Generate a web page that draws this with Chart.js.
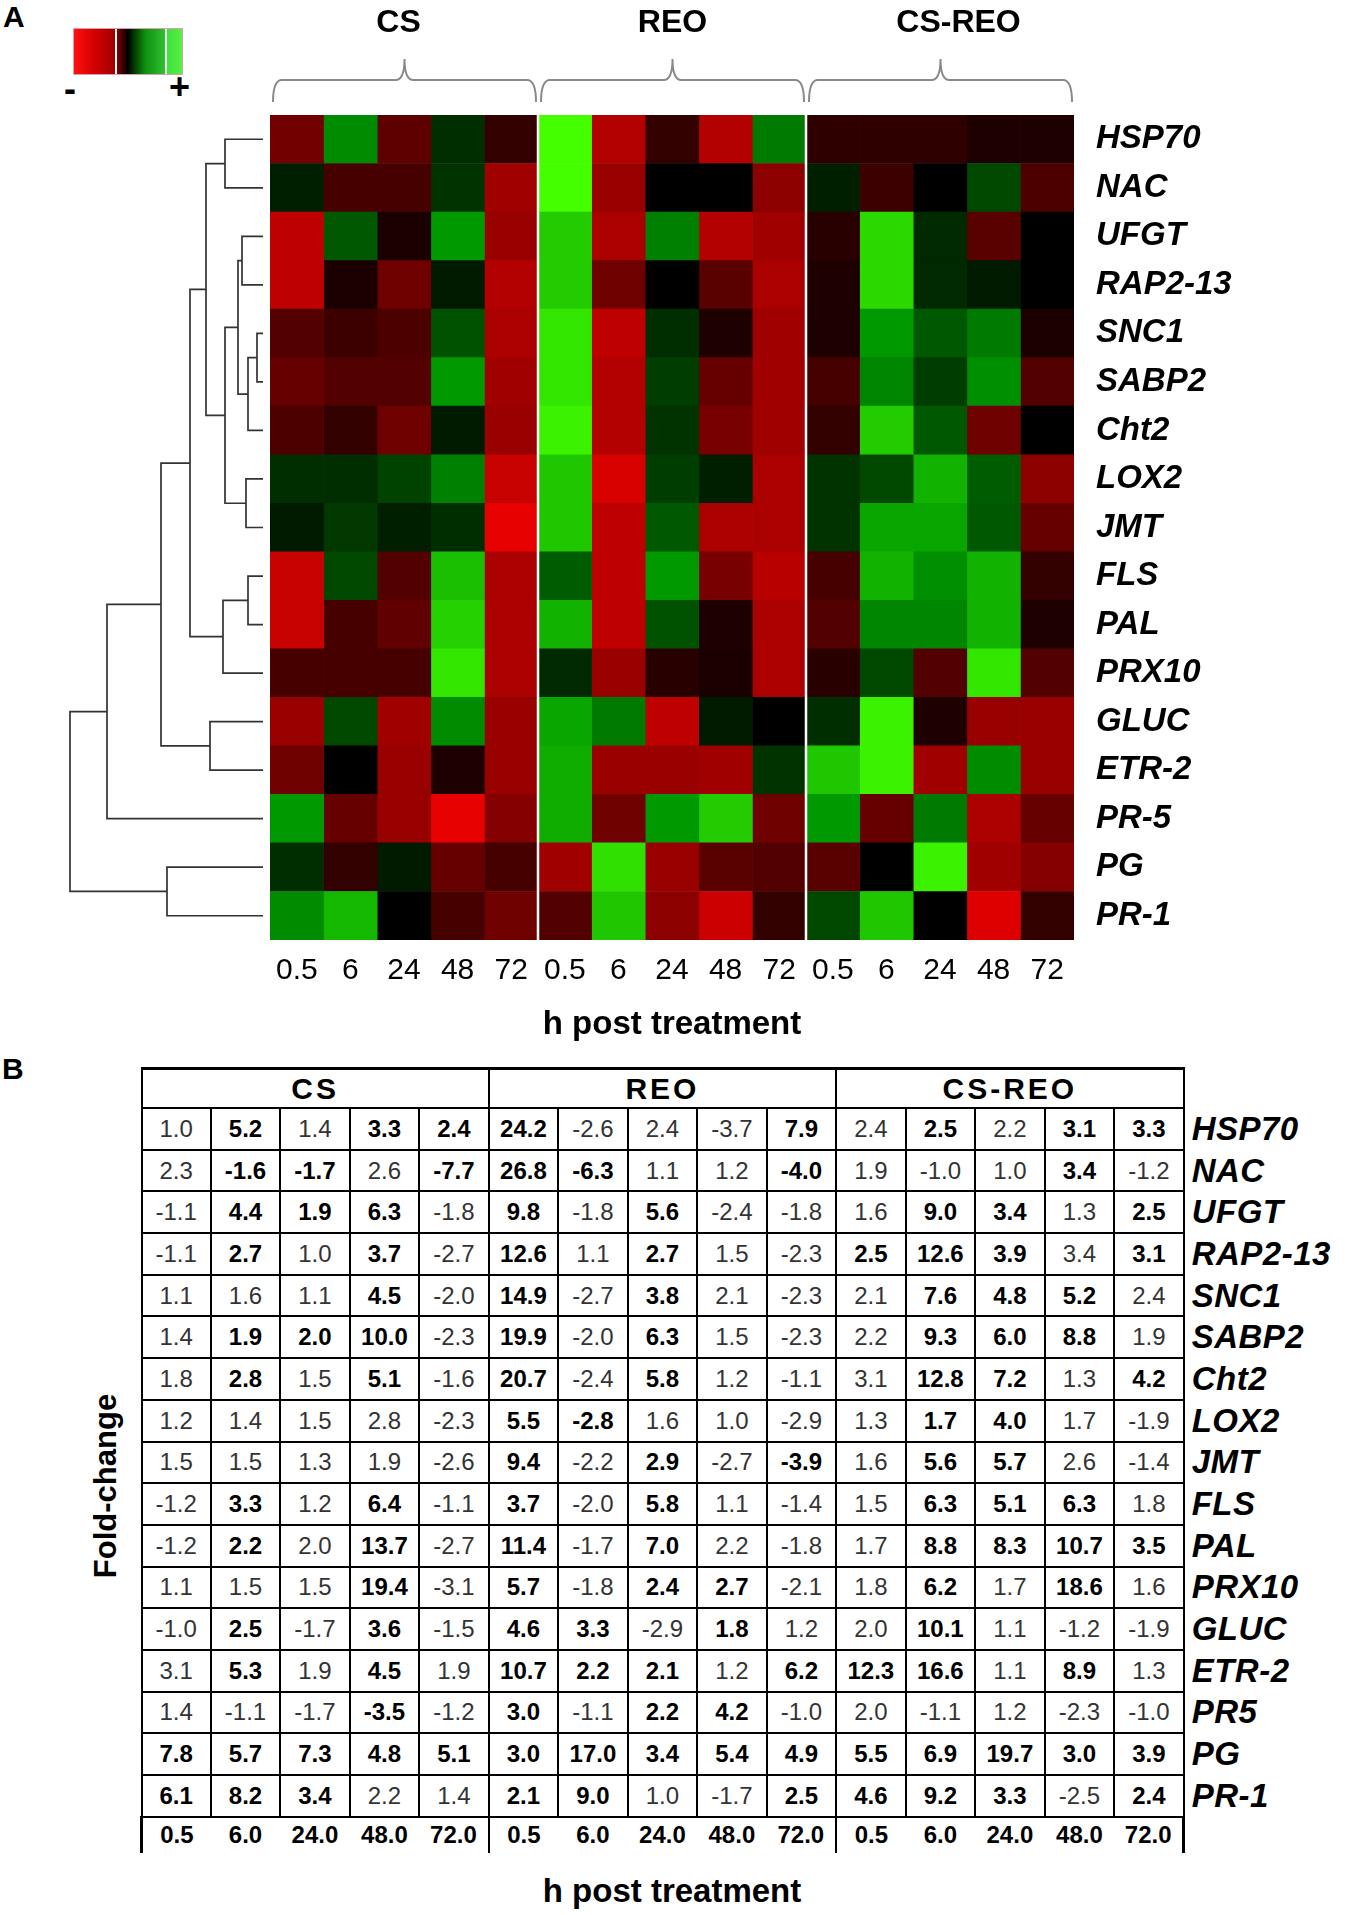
<!DOCTYPE html>
<html>
<head>
<meta charset="utf-8">
<script src="https://cdn.jsdelivr.net/npm/chart.js@4.4.0/dist/chart.umd.min.js"></script>
<style>
body { margin: 0; background: #fff; font-family: "Liberation Sans", Arial, sans-serif; }
#page { position: relative; width: 1345px; height: 1915px; overflow: hidden; }
.abs { position: absolute; }
.panel { font: bold 30px "Liberation Sans", Arial, sans-serif; }
#scalebar {
  left: 73px; top: 28px; width: 108px; height: 45px; border: 1px solid #d8a0b0;
  background: linear-gradient(to right, #ff1010 0%, #d00000 20%, #a00000 38%, #fff 38.3%, #fff 39.6%, #800000 40%, #300000 46%, #000 50%, #003300 55%, #109010 66%, #30c030 84%, #fff 84.3%, #fff 85.6%, #40e040 86%, #55f040 100%);
}
.sign { font: bold 36px "Liberation Sans", Arial, sans-serif; }
#tbl { border-collapse: collapse; table-layout: fixed; left: 140px; top: 1067px; }
#tbl td, #tbl th { padding: 0; text-align: center; border: 2px solid #000; }
#tbl th { height: 37px; font: bold 30px "Liberation Sans", Arial, sans-serif; letter-spacing: 3px; border-top-width: 3px; }
#tbl td.v { height: 39.7px; font-size: 24px; color: #333; }
#tbl td.v.b { font-weight: bold; color: #000; }
#tbl td.g { border: none; text-align: left; padding-left: 7px; font: italic bold 33px "Liberation Sans", Arial, sans-serif; letter-spacing: 0.5px; white-space: nowrap; }
#tbl td.t { border: none; height: 35px; font: bold 24px "Liberation Sans", Arial, sans-serif; }
#tbl td.first { border-left: 3px solid #000; }
#tbl td.edge { border-right: 2px solid #000; }
#tbl td.last { border-right: 3px solid #000; }
.title { font: bold 33px "Liberation Sans", Arial, sans-serif; }
</style>
</head>
<body>
<div id="page">
  <div class="abs panel" style="left:3px;top:0px;">A</div>
  <div class="abs" id="scalebar"></div>
  <div class="abs sign" style="left:64px;top:68px;">-</div>
  <div class="abs sign" style="left:169px;top:66px;">+</div>

  <div class="abs" style="left:0;top:115px;"><canvas id="dendro" width="263" height="825"></canvas></div>
  <div class="abs" style="left:270px;top:0;"><canvas id="heat" width="1075" height="1060"></canvas></div>

  <div class="abs panel" style="left:2px;top:1052px;">B</div>
  <div class="abs title" style="left:106px;top:1486px;transform:translate(-50%,-50%) rotate(-90deg);white-space:nowrap;font-size:31px;">Fold-change</div>
  <table id="tbl" class="abs"></table>
  <div class="abs title" style="left:672px;top:1891px;transform:translate(-50%,-50%);white-space:nowrap;">h post treatment</div>
</div>

<script>
const genes = ['HSP70', 'NAC', 'UFGT', 'RAP2-13', 'SNC1', 'SABP2', 'Cht2', 'LOX2', 'JMT', 'FLS', 'PAL', 'PRX10', 'GLUC', 'ETR-2', 'PR-5', 'PG', 'PR-1'];
const tableGenes = ['HSP70', 'NAC', 'UFGT', 'RAP2-13', 'SNC1', 'SABP2', 'Cht2', 'LOX2', 'JMT', 'FLS', 'PAL', 'PRX10', 'GLUC', 'ETR-2', 'PR5', 'PG', 'PR-1'];
const groups = ['CS', 'REO', 'CS-REO'];
const hours = [0.5, 6, 24, 48, 72];

// heatmap colour level: + green, - red
const heatCS = [
  [-0.45, 0.55, -0.37, 0.18, -0.2],
  [0.12, -0.28, -0.28, 0.2, -0.63],
  [-0.75, 0.35, -0.1, 0.6, -0.6],
  [-0.75, -0.1, -0.43, 0.1, -0.7],
  [-0.32, -0.24, -0.3, 0.32, -0.67],
  [-0.4, -0.32, -0.32, 0.6, -0.63],
  [-0.3, -0.2, -0.43, 0.1, -0.6],
  [0.18, 0.18, 0.26, 0.5, -0.78],
  [0.1, 0.22, 0.12, 0.18, -0.9],
  [-0.78, 0.28, -0.32, 0.75, -0.67],
  [-0.78, -0.28, -0.38, 0.82, -0.67],
  [-0.28, -0.28, -0.28, 0.9, -0.67],
  [-0.6, 0.28, -0.63, 0.55, -0.6],
  [-0.43, 0, -0.6, -0.12, -0.6],
  [0.6, -0.4, -0.6, -0.9, -0.52],
  [0.18, -0.2, 0.1, -0.4, -0.28],
  [0.55, 0.72, 0, -0.28, -0.43]
];
const heatREO = [
  [1.0, -0.7, -0.2, -0.7, 0.48],
  [1.0, -0.6, 0, 0, -0.55],
  [0.8, -0.67, 0.5, -0.7, -0.63],
  [0.8, -0.43, 0, -0.35, -0.67],
  [0.9, -0.75, 0.18, -0.12, -0.63],
  [0.9, -0.7, 0.24, -0.4, -0.63],
  [0.95, -0.7, 0.2, -0.47, -0.63],
  [0.78, -0.85, 0.24, 0.12, -0.67],
  [0.78, -0.75, 0.35, -0.67, -0.67],
  [0.36, -0.75, 0.6, -0.47, -0.72],
  [0.7, -0.75, 0.32, -0.12, -0.67],
  [0.16, -0.6, -0.16, -0.1, -0.67],
  [0.65, 0.48, -0.75, 0.1, 0],
  [0.68, -0.6, -0.6, -0.63, 0.2],
  [0.68, -0.43, 0.6, 0.8, -0.43],
  [-0.63, 0.88, -0.6, -0.35, -0.32],
  [-0.32, 0.78, -0.55, -0.8, -0.2]
];
const heatCSREO = [
  [-0.18, -0.18, -0.18, -0.12, -0.12],
  [0.12, -0.24, 0, 0.28, -0.3],
  [-0.16, 0.85, 0.16, -0.35, 0],
  [-0.12, 0.85, 0.16, 0.1, 0],
  [-0.12, 0.6, 0.35, 0.48, -0.1],
  [-0.28, 0.52, 0.24, 0.56, -0.32],
  [-0.2, 0.8, 0.35, -0.43, 0],
  [0.2, 0.28, 0.7, 0.36, -0.55],
  [0.2, 0.65, 0.65, 0.35, -0.4],
  [-0.28, 0.7, 0.56, 0.7, -0.2],
  [-0.32, 0.52, 0.52, 0.7, -0.12],
  [-0.16, 0.28, -0.32, 0.9, -0.32],
  [0.18, 0.95, -0.12, -0.6, -0.6],
  [0.78, 0.95, -0.63, 0.55, -0.6],
  [0.6, -0.4, 0.48, -0.67, -0.4],
  [-0.35, 0, 0.95, -0.63, -0.52],
  [0.28, 0.78, 0, -0.87, -0.2]
];

// fold-change table
const foldCS = [
  [1.0, 5.2, 1.4, 3.3, 2.4], [2.3, -1.6, -1.7, 2.6, -7.7], [-1.1, 4.4, 1.9, 6.3, -1.8],
  [-1.1, 2.7, 1.0, 3.7, -2.7], [1.1, 1.6, 1.1, 4.5, -2.0], [1.4, 1.9, 2.0, 10.0, -2.3],
  [1.8, 2.8, 1.5, 5.1, -1.6], [1.2, 1.4, 1.5, 2.8, -2.3], [1.5, 1.5, 1.3, 1.9, -2.6],
  [-1.2, 3.3, 1.2, 6.4, -1.1], [-1.2, 2.2, 2.0, 13.7, -2.7], [1.1, 1.5, 1.5, 19.4, -3.1],
  [-1.0, 2.5, -1.7, 3.6, -1.5], [3.1, 5.3, 1.9, 4.5, 1.9], [1.4, -1.1, -1.7, -3.5, -1.2],
  [7.8, 5.7, 7.3, 4.8, 5.1], [6.1, 8.2, 3.4, 2.2, 1.4]
];
const foldREO = [
  [24.2, -2.6, 2.4, -3.7, 7.9], [26.8, -6.3, 1.1, 1.2, -4.0], [9.8, -1.8, 5.6, -2.4, -1.8],
  [12.6, 1.1, 2.7, 1.5, -2.3], [14.9, -2.7, 3.8, 2.1, -2.3], [19.9, -2.0, 6.3, 1.5, -2.3],
  [20.7, -2.4, 5.8, 1.2, -1.1], [5.5, -2.8, 1.6, 1.0, -2.9], [9.4, -2.2, 2.9, -2.7, -3.9],
  [3.7, -2.0, 5.8, 1.1, -1.4], [11.4, -1.7, 7.0, 2.2, -1.8], [5.7, -1.8, 2.4, 2.7, -2.1],
  [4.6, 3.3, -2.9, 1.8, 1.2], [10.7, 2.2, 2.1, 1.2, 6.2], [3.0, -1.1, 2.2, 4.2, -1.0],
  [3.0, 17.0, 3.4, 5.4, 4.9], [2.1, 9.0, 1.0, -1.7, 2.5]
];
const foldCSREO = [
  [2.4, 2.5, 2.2, 3.1, 3.3], [1.9, -1.0, 1.0, 3.4, -1.2], [1.6, 9.0, 3.4, 1.3, 2.5],
  [2.5, 12.6, 3.9, 3.4, 3.1], [2.1, 7.6, 4.8, 5.2, 2.4], [2.2, 9.3, 6.0, 8.8, 1.9],
  [3.1, 12.8, 7.2, 1.3, 4.2], [1.3, 1.7, 4.0, 1.7, -1.9], [1.6, 5.6, 5.7, 2.6, -1.4],
  [1.5, 6.3, 5.1, 6.3, 1.8], [1.7, 8.8, 8.3, 10.7, 3.5], [1.8, 6.2, 1.7, 18.6, 1.6],
  [2.0, 10.1, 1.1, -1.2, -1.9], [12.3, 16.6, 1.1, 8.9, 1.3], [2.0, -1.1, 1.2, -2.3, -1.0],
  [5.5, 6.9, 19.7, 3.0, 3.9], [4.6, 9.2, 3.3, -2.5, 2.4]
];
// significant (bold) entries, 1 = bold
const sigCS = ['01011', '01101', '01110', '01010', '00010', '01110', '01010', '00000', '00000', '01010', '01010', '00010', '01010', '01010', '00010', '11111', '11100'];
const sigREO = ['10001', '11001', '10100', '10100', '10100', '10100', '10100', '11000', '10101', '10100', '10100', '10110', '11010', '11101', '10110', '11111', '11001'];
const sigCSREO = ['01011', '00010', '01101', '11101', '01110', '01110', '01101', '01100', '01100', '01110', '01111', '01010', '01000', '11010', '00000', '11111', '11101'];

// dendrogram merges: [left, right, height]; leaves are 0..16, merges numbered from 17
const merges = [
  [0, 1, 38], [4, 5, 6], [18, 6, 15], [2, 3, 21], [20, 19, 25], [7, 8, 17],
  [21, 22, 38], [17, 23, 57], [9, 10, 15], [25, 11, 40], [24, 26, 73],
  [12, 13, 53], [27, 28, 102], [29, 14, 156], [15, 16, 96], [30, 31, 193]
];

function cellColor(v) {
  if (v >= 0) {
    const g = Math.round(255 * v);
    const r = v > 0.6 ? Math.round((v - 0.6) * 170) : 0;
    return `rgb(${r},${g},0)`;
  }
  return `rgb(${Math.round(-255 * v)},0,0)`;
}

const heatAll = genes.map((g, r) => [...heatCS[r], ...heatREO[r], ...heatCSREO[r]]);
const colLabels = [...hours, ...hours, ...hours].map(h => String(h));
const headerShift = [-6, 0, 18];

function noPad(scale) {
  scale.paddingLeft = 0; scale.paddingRight = 0;
  scale.paddingTop = 0; scale.paddingBottom = 0;
}

// ---------- heatmap ----------
const heatDatasets = colLabels.map((lab, c) => ({
  label: lab,
  data: genes.map(() => 1),
  backgroundColor: genes.map((g, r) => cellColor(heatAll[r][c])),
  borderWidth: 0,
  barPercentage: 1,
  categoryPercentage: 1,
  stack: 's'
}));

const headerPlugin = {
  id: 'header',
  afterDraw(chart) {
    const { ctx, chartArea } = chart;
    const xs = chart.scales.x;
    // white group separators
    ctx.save();
    ctx.strokeStyle = '#fff';
    ctx.lineWidth = 2.5;
    [5, 10].forEach(v => {
      const px = xs.getPixelForValue(v);
      ctx.beginPath();
      ctx.moveTo(px, chartArea.top);
      ctx.lineTo(px, chartArea.bottom);
      ctx.stroke();
    });
    // braces and group names
    ctx.strokeStyle = '#8a8a8a';
    ctx.lineWidth = 2;
    ctx.fillStyle = '#000';
    ctx.font = 'bold 32px "Liberation Sans", Arial, sans-serif';
    ctx.textAlign = 'center';
    ctx.textBaseline = 'middle';
    groups.forEach((name, i) => {
      const x0 = xs.getPixelForValue(i * 5) + 3;
      const x1 = xs.getPixelForValue(i * 5 + 5) - 2;
      const xc = (x0 + x1) / 2;
      const yb = 102, ym = 80, yt = 59, r = 9;
      ctx.beginPath();
      ctx.moveTo(x0, yb);
      ctx.quadraticCurveTo(x0, ym, x0 + r, ym);
      ctx.lineTo(xc - r, ym);
      ctx.quadraticCurveTo(xc, ym, xc, yt);
      ctx.quadraticCurveTo(xc, ym, xc + r, ym);
      ctx.lineTo(x1 - r, ym);
      ctx.quadraticCurveTo(x1, ym, x1, yb);
      ctx.stroke();
      ctx.fillText(name, xc + headerShift[i], 23);
    });
    ctx.restore();
  }
};

new Chart(document.getElementById('heat'), {
  type: 'bar',
  data: { labels: genes, datasets: heatDatasets },
  options: {
    indexAxis: 'y',
    responsive: false,
    animation: false,
    layout: { padding: { top: 115, left: 0, right: 0, bottom: 0 } },
    plugins: { legend: { display: false }, tooltip: { enabled: false } },
    scales: {
      x: {
        type: 'linear',
        stacked: true,
        min: 0,
        max: 15,
        grid: { display: false, drawTicks: false },
        border: { display: false },
        afterBuildTicks: axis => { axis.ticks = colLabels.map((l, i) => ({ value: i + 0.5 })); },
        afterFit: scale => { scale.height = 120; noPad(scale); },
        ticks: {
          autoSkip: false,
          maxRotation: 0,
          padding: 13,
          color: '#000',
          font: { family: '"Liberation Sans", Arial, sans-serif', size: 30 },
          callback: (v, i) => colLabels[i]
        },
        title: {
          display: true,
          text: 'h post treatment',
          color: '#000',
          padding: { top: 0, bottom: 15 },
          font: { family: '"Liberation Sans", Arial, sans-serif', size: 33, weight: 'bold' }
        }
      },
      y: {
        type: 'category',
        position: 'right',
        stacked: true,
        grid: { display: false, drawTicks: false },
        border: { display: false },
        afterFit: scale => { scale.width = 271; noPad(scale); },
        ticks: {
          padding: 22,
          color: '#000',
          font: { family: '"Liberation Sans", Arial, sans-serif', size: 33, weight: 'bold', style: 'italic' }
        }
      }
    }
  },
  plugins: [headerPlugin]
});

// ---------- dendrogram ----------
const nodeY = genes.map((g, i) => i + 0.5);
const nodeH = genes.map(() => 0);
const linkSets = merges.map(([a, b, h]) => {
  const pts = [
    { x: nodeH[a], y: nodeY[a] }, { x: h, y: nodeY[a] },
    { x: h, y: nodeY[b] }, { x: nodeH[b], y: nodeY[b] }
  ];
  nodeY.push((nodeY[a] + nodeY[b]) / 2);
  nodeH.push(h);
  return {
    data: pts, showLine: true, borderColor: '#333', borderWidth: 1.7,
    pointRadius: 0, fill: false, clip: false, tension: 0
  };
});

new Chart(document.getElementById('dendro'), {
  type: 'scatter',
  data: { datasets: linkSets },
  options: {
    responsive: false,
    animation: false,
    layout: { padding: 0 },
    plugins: { legend: { display: false }, tooltip: { enabled: false } },
    scales: {
      x: { type: 'linear', reverse: true, min: 0, max: 263, display: false },
      y: { type: 'linear', reverse: true, min: 0, max: 17, display: false }
    }
  }
});

// ---------- fold-change table ----------
const tbl = document.getElementById('tbl');
let html = '<colgroup>' + '<col style="width:70.2px">'.repeat(15) + '<col style="width:160px"></colgroup>';
html += '<tr>' + groups.map(g => `<th colspan="5">${g}</th>`).join('') + '<td class="g"></td></tr>';
const foldSets = [foldCS, foldREO, foldCSREO];
const sigSets = [sigCS, sigREO, sigCSREO];
tableGenes.forEach((g, r) => {
  html += '<tr>';
  foldSets.forEach((fs, k) => {
    fs[r].forEach((v, c) => {
      const bold = sigSets[k][r][c] === '1' ? ' b' : '';
      html += `<td class="v${bold}">${v.toFixed(1)}</td>`;
    });
  });
  html += `<td class="g">${g}</td></tr>`;
});
html += '<tr>';
groups.forEach((g, k) => {
  hours.forEach((h, c) => {
    let cls = 't';
    if (k === 0 && c === 0) cls += ' first';
    if (c === 4) cls += (k === 2 ? ' last' : ' edge');
    html += `<td class="${cls}">${h.toFixed(1)}</td>`;
  });
});
html += '<td class="g"></td></tr>';
tbl.innerHTML = html;
</script>
</body>
</html>
